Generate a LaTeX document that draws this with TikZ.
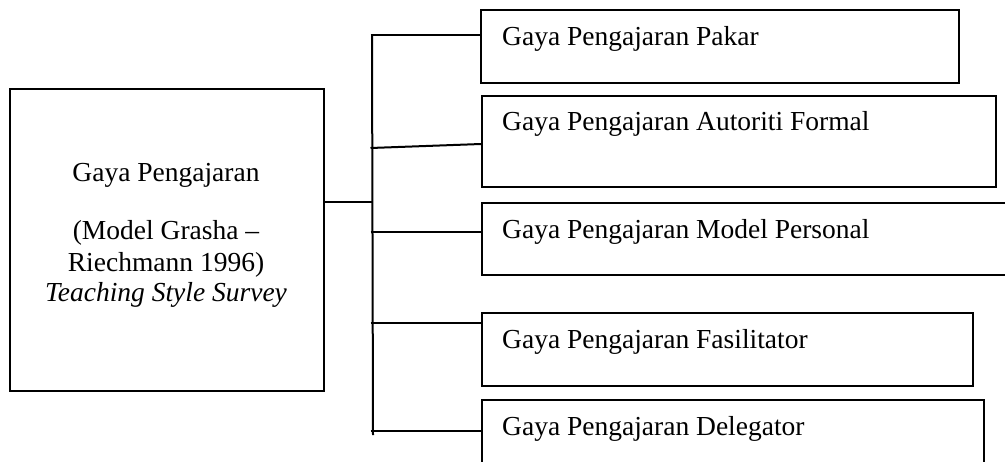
\documentclass[tikz,border=0pt]{standalone}
\usepackage{fontspec}
\setmainfont{Liberation Serif}
\begin{document}
\begin{tikzpicture}[x=1pt,y=-1pt,
  boxnode/.style={draw,line width=1.6pt,rectangle,inner sep=0pt,anchor=north west},
  txt/.style={inner sep=0pt,font=\fontsize{27.5}{31}\selectfont},
  conn/.style={line width=2pt}]
\useasboundingbox (0,0) rectangle (1005,461);
\clip (0,0) rectangle (1005,461);
% main box
\node[boxnode,minimum width=314pt,minimum height=302pt] (main) at (9,88) {};
\node[txt,anchor=base] (m1) at (166,181.7) {Gaya Pengajaran};
\node[txt,anchor=base] (m2) at (166,239.3) {(Model Grasha –};
\node[txt,anchor=base] (m3) at (166,271.7) {Riechmann 1996)};
\node[txt,anchor=base] (m4) at (166,301.7) {\itshape Teaching Style Survey};
% right boxes
\node[boxnode,minimum width=478pt,minimum height=73pt] (b1) at (480,9) {};
\node[boxnode,minimum width=514pt,minimum height=91pt] (b2) at (481,95) {};
\node[boxnode,minimum width=540pt,minimum height=72pt] (b3) at (481,202) {};
\node[boxnode,minimum width=491pt,minimum height=73pt] (b4) at (481,312) {};
\node[boxnode,minimum width=502pt,minimum height=120pt] (b5) at (481,399) {};
\node[txt,anchor=base west] (t1) at (502,45) {Gaya Pengajaran Pakar};
\node[txt,anchor=base west] (t2) at (502,130) {Gaya Pengajaran Autoriti Formal};
\node[txt,anchor=base west] (t3) at (502,238.3) {Gaya Pengajaran Model Personal};
\node[txt,anchor=base west] (t4) at (502,348.3) {Gaya Pengajaran Fasilitator};
\node[txt,anchor=base west] (t5) at (502,435) {Gaya Pengajaran Delegator};
% trunk
\coordinate (ttop) at (372,34.7);
\coordinate (tbot) at (373,435);
\coordinate (tmid) at (372,201.7);
\coordinate (j1) at (370.5,34.7);
\coordinate (j2) at (370.5,148);
\coordinate (j3) at (370.5,231.7);
\coordinate (j4) at (370.5,323);
\coordinate (j5) at (370.5,430.7);
\coordinate (k2) at (481,144);
\draw[conn] (ttop) -- (tbot);
\draw[conn] (main.east |- tmid) -- (tmid);
\draw[conn] (j1) -- (j1 -| b1.west);
\draw[conn] (j2) -- (k2);
\draw[conn] (j3) -- (j3 -| b3.west);
\draw[conn] (j4) -- (j4 -| b4.west);
\draw[conn] (j5) -- (j5 -| b5.west);
\end{tikzpicture}
\end{document}
